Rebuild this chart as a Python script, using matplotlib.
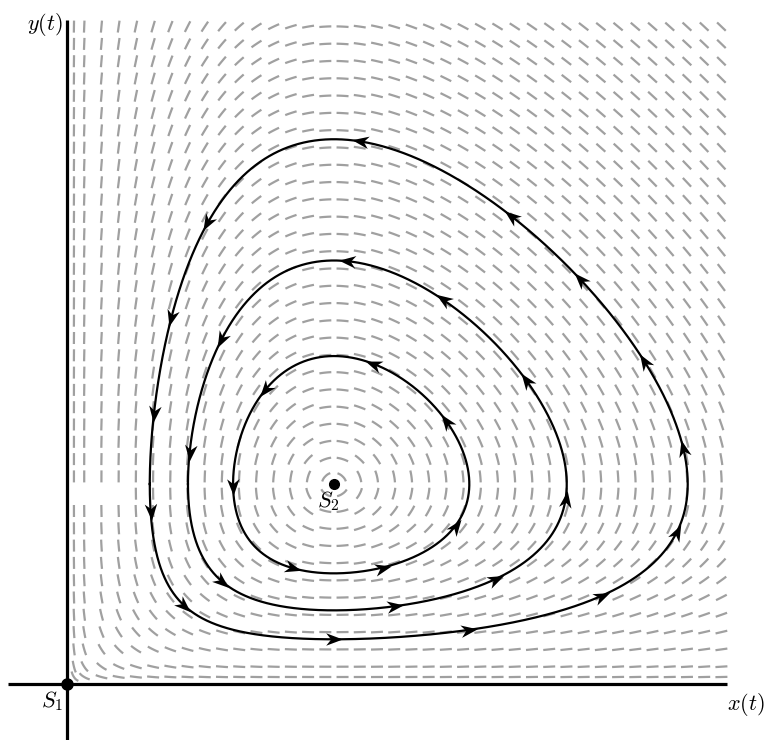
import numpy as np
import matplotlib
matplotlib.use("Agg")
import matplotlib.pyplot as plt
from matplotlib.collections import LineCollection
from matplotlib.markers import MarkerStyle
from matplotlib.path import Path
from matplotlib.transforms import Affine2D

plt.rcParams['mathtext.fontset'] = 'cm'

# Lotka-Volterra:  x' = x (alpha - beta y),  y' = y (delta x - gamma)
alpha, beta, gamma, delta = 2 / 3, 4 / 3, 1.0, 1.0
eq_x, eq_y = gamma / delta, alpha / beta

# orbits, given by their left turning point on y = eq_y
orbit_x0 = [0.31, 0.453, 0.622]
# arrow heads on each orbit, as fractions of its length (from the left turning point)
orbit_arrows = [
    [0.017, 0.078, 0.172, 0.253, 0.336, 0.396, 0.448, 0.505, 0.568, 0.624,
     0.726, 0.838, 0.899, 0.958],
    [0.092, 0.247, 0.337, 0.433, 0.544, 0.644, 0.734, 0.871, 0.973],
    [0.004, 0.156, 0.283, 0.403, 0.561, 0.692, 0.859],
]

# direction field sample points
field_x = np.r_[0.026, np.arange(1, 39) * 0.0645]
field_y = np.r_[0.0175, np.arange(1, 39) * 0.04325]

# pixel scale of one data unit
sx, sy = 267.0, 400.0


def rhs(x, y):
    return x * (alpha - beta * y), y * (delta * x - gamma)


def rk4_orbit(x0, y0, dt=0.002, max_steps=200000):
    pts = [(x0, y0)]
    x, y = x0, y0
    t = 0.0
    for _ in range(max_steps):
        k1 = rhs(x, y)
        k2 = rhs(x + dt / 2 * k1[0], y + dt / 2 * k1[1])
        k3 = rhs(x + dt / 2 * k2[0], y + dt / 2 * k2[1])
        k4 = rhs(x + dt * k3[0], y + dt * k3[1])
        xn = x + dt / 6 * (k1[0] + 2 * k2[0] + 2 * k3[0] + k4[0])
        yn = y + dt / 6 * (k1[1] + 2 * k2[1] + 2 * k3[1] + k4[1])
        # coming down through y = eq_y on the left again -> one period
        if t > 1 and x < eq_x and y > y0 >= yn:
            frac = (y - y0) / (y - yn)
            pts.append((x + frac * (xn - x), y0))
            break
        t += dt
        x, y = xn, yn
        pts.append((x, y))
    return np.array(pts)


fig = plt.figure(figsize=(7.64, 7.40), dpi=100)
ax = fig.add_axes([0, 0, 1, 1])
ax.set_xlim(-67 / sx, (764 - 67) / sx)
ax.set_ylim((684 - 740) / sy, 684 / sy)
ax.axis('off')

# direction field: short pieces of the flow, 12 px long, traced in screen space
X, Y = np.meshgrid(field_x, field_y)
X, Y = X.ravel(), Y.ravel()
keep = ~((np.abs(Y - 11 * 0.04325) < 1e-9) & (X < 0.25))
X, Y = X[keep], Y[keep]


def trace(px, py, sign, n=6):
    xs, ys = [px.copy()], [py.copy()]
    for _ in range(n):
        u, v = rhs(px, py)
        u, v = u * sx, v * sy
        m = np.hypot(u, v)
        m[m == 0] = 1
        px = px + sign * u / m / sx
        py = py + sign * v / m / sy
        xs.append(px.copy())
        ys.append(py.copy())
    return np.array(xs), np.array(ys)


fx, fy = trace(X, Y, 1)
bx, by = trace(X, Y, -1)
segx = np.vstack([bx[::-1], fx[1:]]).T
segy = np.vstack([by[::-1], fy[1:]]).T
segs = np.stack([segx, segy], axis=-1)
ax.add_collection(LineCollection(segs, colors='#a0a0a0', linewidths=1.6,
                                 capstyle='butt', zorder=1))

# coordinate axes
ax.plot([-59 / sx, 660 / sx], [0, 0], color='black', lw=2.3, zorder=3,
        solid_capstyle='butt')
ax.plot([0, 0], [-56 / sy, 664 / sy], color='black', lw=2.3, zorder=3,
        solid_capstyle='butt')

# stealth arrow head, tip pointing to +x
head = Path([(1.0, 0), (-1.0, 0.75), (-0.4, 0), (-1.0, -0.75), (1.0, 0)],
            [Path.MOVETO, Path.LINETO, Path.LINETO, Path.LINETO, Path.CLOSEPOLY])

for x0, fracs in zip(orbit_x0, orbit_arrows):
    pts = rk4_orbit(x0, eq_y)
    ax.plot(pts[:, 0], pts[:, 1], color='black', lw=1.6, zorder=4)
    disp = ax.transData.transform(pts)
    s = np.r_[0, np.cumsum(np.hypot(*np.diff(disp, axis=0).T))]
    for f in fracs:
        i = int(np.searchsorted(s, f * s[-1]))
        i = min(max(i, 2), len(pts) - 3)
        d = disp[i + 2] - disp[i - 2]
        ang = np.degrees(np.arctan2(d[1], d[0]))
        m = MarkerStyle(head, transform=Affine2D().rotate_deg(ang))
        ax.plot(pts[i, 0], pts[i, 1], marker=m, markersize=12,
                color='black', markeredgewidth=0, zorder=5)

# equilibria
ax.plot(0, 0, 'o', color='black', markersize=8, zorder=6)
ax.plot(eq_x, eq_y, 'o', color='black', markersize=7, zorder=6)

ax.text(-4 / sx, -17 / sy, r'$S_1$', fontsize=16, ha='right', va='center')
ax.text(eq_x - 6 / sx, eq_y - 17 / sy, r'$S_2$', fontsize=16,
        ha='center', va='center')
ax.text(679 / sx, -21 / sy, r'$x(t)$', fontsize=16, ha='center', va='center')
ax.text(-22 / sx, 660 / sy, r'$y(t)$', fontsize=16, ha='center', va='center')

fig.savefig('out.png', dpi=100)
